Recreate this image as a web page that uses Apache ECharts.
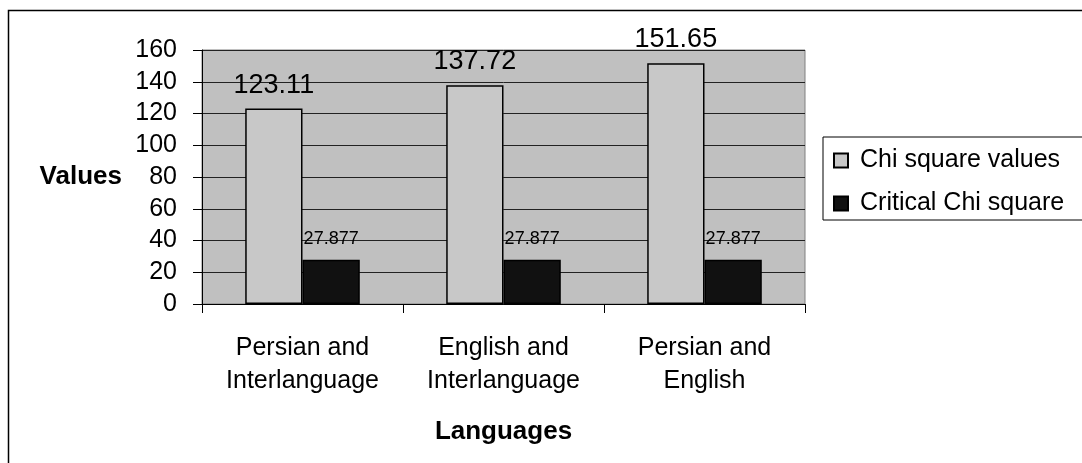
<!DOCTYPE html>
<html>
<head>
<meta charset="utf-8">
<style>
  html, body { margin: 0; padding: 0; background: #ffffff; }
  #chart { width: 1082px; height: 463px; }
</style>
<script src="https://cdn.jsdelivr.net/npm/echarts@6/dist/echarts.min.js"></script>
</head>
<body>
<div id="chart"></div>
<script>
// Language pairs compared
const categories = ['Persian and\nInterlanguage', 'English and\nInterlanguage', 'Persian and\nEnglish'];
// Observed chi square statistic for each pair
const chiSquareValues = [123.11, 137.72, 151.65];
// Critical chi square value (same for every pair)
const criticalChiSquare = [27.877, 27.877, 27.877];
// Value axis ticks
const yMin = 0, yMax = 160, yStep = 20;

const FONT = '"Liberation Sans", Arial, sans-serif';

const chart = echarts.init(document.getElementById('chart'), null, { renderer: 'canvas' });

chart.setOption({
  animation: false,
  textStyle: { fontFamily: FONT, color: '#000' },
  graphic: [
    {
      // outer chart frame
      type: 'rect', z: -10,
      shape: { x: 8.5, y: 10.5, width: 1090, height: 500 },
      style: { fill: '#ffffff', stroke: '#000', lineWidth: 1.5 }
    }
  ],
  grid: {
    left: 202, right: 277, top: 50, bottom: 159,
    show: true, backgroundColor: '#c0c0c0', borderColor: '#808080', borderWidth: 1
  },
  legend: {
    orient: 'vertical',
    left: 823, top: 137,
    padding: [11, 60, 4, 10],
    itemWidth: 14, itemHeight: 14, itemGap: 18,
    icon: 'rect',
    borderColor: '#000', borderWidth: 1,
    backgroundColor: '#fff',
    textStyle: { fontFamily: FONT, fontSize: 25, lineHeight: 22, color: '#000', padding: [0, 0, 0, 7] },
    data: ['Chi square values', 'Critical Chi square']
  },
  xAxis: {
    type: 'category',
    data: categories,
    name: 'Languages',
    nameLocation: 'middle',
    nameGap: 115,
    nameTextStyle: { fontFamily: FONT, fontSize: 26, fontWeight: 'bold', color: '#000' },
    axisLine: { lineStyle: { color: '#000', width: 1 } },
    axisTick: { show: true, length: 9, lineStyle: { color: '#000' } },
    axisLabel: { fontFamily: FONT, fontSize: 25, lineHeight: 33, color: '#000', margin: 28 }
  },
  yAxis: {
    type: 'value',
    min: yMin, max: yMax, interval: yStep,
    name: 'Values',
    nameLocation: 'middle',
    nameRotate: 0,
    nameGap: 80,
    nameTextStyle: { fontFamily: FONT, fontSize: 26, fontWeight: 'bold', color: '#000', align: 'right' },
    axisLine: { show: true, lineStyle: { color: '#000', width: 1 } },
    axisTick: { show: true, length: 9, lineStyle: { color: '#000' } },
    axisLabel: { fontFamily: FONT, fontSize: 25, color: '#000', margin: 25 },
    splitLine: { show: true, lineStyle: { color: '#222', width: 1 } }
  },
  series: [
    {
      name: 'Chi square values',
      type: 'bar',
      data: chiSquareValues,
      barGap: '0%',
      barCategoryGap: '43%',
      itemStyle: { color: '#c8c8c8', borderColor: '#000', borderWidth: 1.5 },
      label: {
        show: true, position: 'top', distance: 10,
        fontFamily: FONT, fontSize: 27, color: '#000'
      }
    },
    {
      name: 'Critical Chi square',
      type: 'bar',
      data: criticalChiSquare,
      itemStyle: { color: '#111111', borderColor: '#000', borderWidth: 1.5 },
      label: {
        show: true, position: 'top', distance: 12,
        fontFamily: FONT, fontSize: 18, color: '#000',
        formatter: p => p.value.toFixed(3)
      }
    }
  ]
});
</script>
</body>
</html>
